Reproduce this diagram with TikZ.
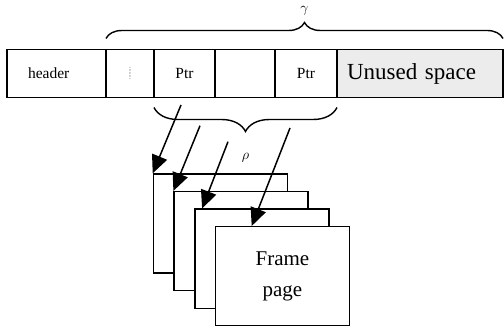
\documentclass[tikz,border=0pt]{standalone}
\usepackage{fontspec}
\setmainfont{Liberation Serif}
\usetikzlibrary{positioning,calc,arrows.meta,decorations.pathreplacing}

\tikzset{
  cell/.style={draw, line width=1.5pt, outer sep=0pt, minimum height=48pt,
    inner sep=0pt, font=\fontsize{15.5}{18}\selectfont},
  page/.style={draw, fill=white, line width=1.5pt, minimum width=134pt,
    minimum height=99pt, anchor=north west},
  bracket/.style={decorate, line width=1.4pt,
    decoration={brace, amplitude=#1}},
  ptr/.style={line width=1.5pt, -{Triangle[length=18pt, width=16pt]}}
}

\begin{document}
\begin{tikzpicture}[x=1pt, y=1pt]
  \useasboundingbox (0,0) rectangle (504,-326);
  % the page record
  \node[cell, anchor=north west, minimum width=99pt, text width=57pt,
    align=left] (header) at (7,-49.5) {header};
  \node[cell, minimum width=48pt, right=0pt of header] (dots)
    {\rotatebox{90}{\fontsize{6}{7}\selectfont ........}};
  \node[cell, minimum width=61pt, right=0pt of dots] (ptrA) {Ptr};
  \node[cell, minimum width=60pt, right=0pt of ptrA] (mid) {};
  \node[cell, minimum width=62pt, right=0pt of mid] (ptrB) {Ptr};
  \node[cell, fill=gray!15, minimum width=166pt, text width=146pt,
    align=left, font=\fontsize{23}{27}\selectfont, right=0pt of ptrB]
    (unused) {Unused space};
  \draw[bracket=16pt] ([yshift=11pt]dots.north west) -- ([yshift=11pt]unused.north east)
    node[midway, above=19pt, font=\fontsize{15}{18}\selectfont] (gamma) {$\gamma$};
  \draw[bracket=24pt] ([yshift=-10pt]ptrB.south east) -- ([yshift=-10pt]ptrA.south west)
    node[midway, below=42pt, font=\fontsize{15}{18}\selectfont] (rho) {$\rho$};
  % the frame pages, back to front
  \foreach \i in {0,1,2} {
    \node[page] (page\i) at (152.7+20.7*\i, -173.3-17.6*\i) {};
  }
  \node[page, align=center, font=\fontsize{21}{31}\selectfont] (page3)
    at (214.7,-226) {Frame\\page};
  \coordinate (p0) at (181,-105);
  \coordinate (p1) at (200,-125.7);
  \coordinate (p2) at (228,-141.7);
  \coordinate (p3) at (290,-128);
  \draw[ptr] (p0) -- (page0.north west);
  \draw[ptr] (p1) -- (page1.north west);
  \draw[ptr] (p2) -- ($(page2.north west)+(8,0)$);
  \draw[ptr] (p3) -- ($(page3.north west)+(37,0)$);
\end{tikzpicture}
\end{document}
